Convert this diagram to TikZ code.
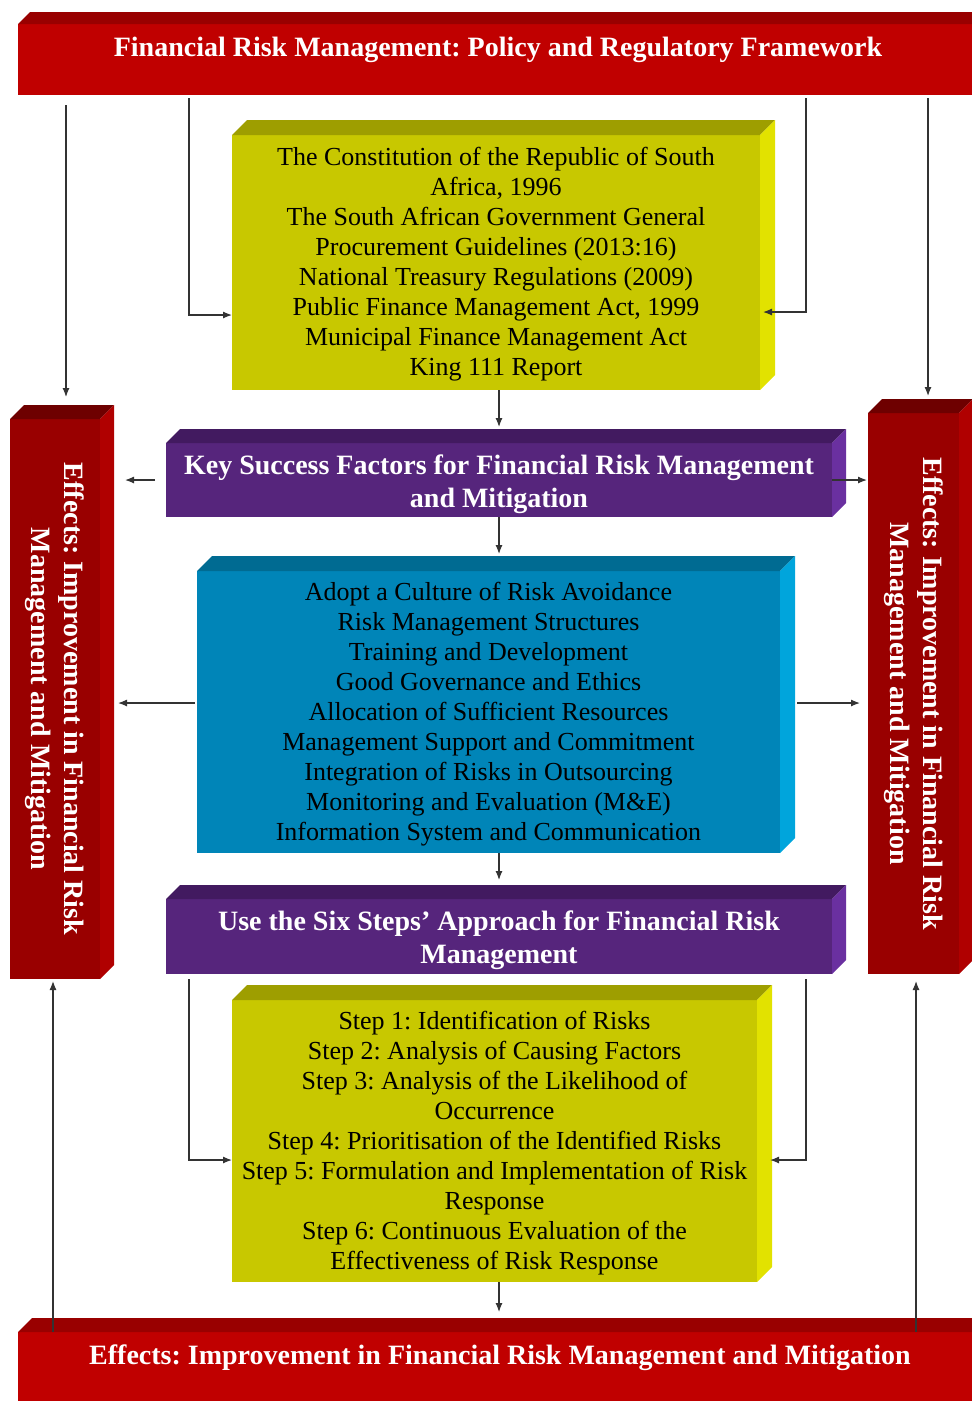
\documentclass[tikz,border=0pt]{standalone}
\usepackage{fontspec}
\setmainfont{Liberation Serif}
\usepackage{graphicx}
\usetikzlibrary{arrows.meta,calc}
\frenchspacing
\definecolor{bannerF}{HTML}{C00000}
\definecolor{bannerT}{HTML}{990000}
\definecolor{redF}{HTML}{990000}
\definecolor{redT}{HTML}{6E0000}
\definecolor{redS}{HTML}{B00000}
\definecolor{purF}{HTML}{56257C}
\definecolor{purT}{HTML}{421A60}
\definecolor{purS}{HTML}{6A30A0}
\definecolor{bluF}{HTML}{0085B8}
\definecolor{bluT}{HTML}{006B92}
\definecolor{bluS}{HTML}{00A5DC}
\definecolor{yelF}{HTML}{C8C800}
\definecolor{yelT}{HTML}{9E9E00}
\definecolor{yelS}{HTML}{E2E200}
\newcommand\cubefaces[4]{%
  \fill[#3] (#1.north west) -- ++(#2,-#2) -- ([shift={(#2,-#2)}]#1.north east) -- (#1.north east) -- cycle;
  \fill[#4] (#1.north east) -- ++(#2,-#2) -- ([shift={(#2,-#2)}]#1.south east) -- (#1.south east) -- cycle;}
\newcommand\hstrut{\rule{0pt}{28pt}}
\newcommand\bstrut{\rule{0pt}{22pt}}
\tikzset{
  face/.style={inner sep=0pt, outer sep=0pt, align=center},
  conn/.style={draw=black!80, line width=1.2pt},
  arr/.style={conn, -{Latex[length=9pt,width=7pt]}},
  body/.style={font=\fontsize{26}{30}\selectfont, text=black},
  head/.style={font=\fontsize{28}{33}\selectfont\bfseries, text=white},
}
\begin{document}
\begin{tikzpicture}[x=1pt,y=-1pt]
\useasboundingbox (0,0) rectangle (972,1401);
\clip (0,0) rectangle (972,1401);

% top banner
\node[face, fill=bannerF, minimum width=972, minimum height=71, anchor=north west] (topbar) at (18,24) {};
\fill[bannerT] (topbar.north west) -- ++(12,-12) -- ([shift={(12,-12)}]topbar.north east) -- (topbar.north east) -- cycle;
\node[head, anchor=base] (toptitle) at (498,56) {Financial Risk Management: Policy and Regulatory Framework};

% bottom banner
\node[face, fill=bannerF, minimum width=972, minimum height=80, anchor=north west] (botbar) at (18,1332) {};
\fill[bannerT] (botbar.north west) -- ++(14,-14) -- ([shift={(14,-14)}]botbar.north east) -- (botbar.north east) -- cycle;
\node[head, anchor=base] (bottitle) at (500,1364) {Effects: Improvement in Financial Risk Management and Mitigation};

% legislation box
\node[face, body, fill=yelF, minimum width=528, minimum height=255] (law) at (496,262.5)
  {\bstrut The Constitution of the Republic of South\\ Africa, 1996\\ The South African Government General\\ Procurement Guidelines (2013:16)\\ National Treasury Regulations (2009)\\ Public Finance Management Act, 1999\\ Municipal Finance Management Act\\ King 111 Report};
\cubefaces{law}{15}{yelT}{yelS}

% key success factors header
\node[face, head, fill=purF, minimum width=666, minimum height=74] (ksf) at (499,480)
  {\hstrut Key Success Factors for Financial Risk Management\\ and Mitigation};
\cubefaces{ksf}{14}{purT}{purS}

% factors box
\node[face, body, fill=bluF, minimum width=583, minimum height=282] (factors) at (488.5,712)
  {\bstrut Adopt a Culture of Risk Avoidance\\ Risk Management Structures\\ Training and Development\\ Good Governance and Ethics\\ Allocation of Sufficient Resources\\ Management Support and Commitment\\ Integration of Risks in Outsourcing\\ Monitoring and Evaluation (M\&E)\\ Information System and Communication};
\cubefaces{factors}{15}{bluT}{bluS}

% six steps header
\node[face, head, fill=purF, minimum width=666, minimum height=75] (six) at (499,936.5)
  {\hstrut Use the Six Steps’ Approach for Financial Risk\\ Management};
\cubefaces{six}{14}{purT}{purS}

% steps box
\node[face, body, fill=yelF, minimum width=525, minimum height=282] (steps) at (494.5,1141)
  {\bstrut Step 1: Identification of Risks\\ Step 2: Analysis of Causing Factors\\ Step 3: Analysis of the Likelihood of\\ Occurrence\\ Step 4: Prioritisation of the Identified Risks\\ Step 5: Formulation and Implementation of Risk\\ Response\\ Step 6: Continuous Evaluation of the\\ Effectiveness of Risk Response};
\cubefaces{steps}{15}{yelT}{yelS}

% side boxes
\node[face, head, fill=redF, minimum width=90, minimum height=560] (lred) at (55,699)
  {\rotatebox{-90}{\parbox{520pt}{\centering Effects: Improvement in Financial Risk\\ Management and Mitigation}}};
\cubefaces{lred}{14}{redT}{redS}
\node[face, head, fill=redF, minimum width=91, minimum height=561] (rred) at (913.5,693.5)
  {\rotatebox{-90}{\parbox{520pt}{\centering Effects: Improvement in Financial Risk\\ Management and Mitigation}}};
\cubefaces{rred}{14}{redT}{redS}

% connectors
\draw[arr, shorten <=10pt, shorten >=22pt] (66,0 |- topbar.south) -- (66,0 |- lred.north);
\draw[arr, shorten <=3pt] (189,0 |- topbar.south) |- (law.west |- 0,315);
\draw[arr, shorten <=3pt] (806,0 |- topbar.south) |- ($(law.east |- 0,312)+(3,0)$);
\draw[arr, shorten <=3pt, shorten >=17pt] (928,0 |- topbar.south) -- (928,0 |- rred.north);
\draw[arr, shorten >=16pt] (ksf.north |- law.south) -- (ksf.north);
\draw[arr, shorten <=11pt, shorten >=25pt] (ksf.west) -- (lred.east |- ksf.west);
\draw[arr, shorten >=1pt] (ksf.east) -- (rred.west |- ksf.east);
\draw[arr, shorten >=17pt] (ksf.south) -- (ksf.south |- factors.north);
\draw[arr, shorten <=2pt, shorten >=18pt] (factors.west |- 0,703) -- (lred.east |- 0,703);
\draw[arr, shorten <=17pt, shorten >=8pt] (factors.east |- 0,703) -- (rred.west |- 0,703);
\draw[arr, shorten >=19pt] (six.north |- factors.south) -- (six.north);
\draw[arr, shorten <=5pt] (189,0 |- six.south) |- (steps.west |- 0,1160);
\draw[arr, shorten <=5pt] (806,0 |- six.south) |- ($(steps.east |- 0,1160)+(13,0)$);
\draw[arr, shorten >=2pt] (53,0 |- botbar.north) -- (53,0 |- lred.south);
\draw[arr, shorten >=7pt] (916,0 |- botbar.north) -- (916,0 |- rred.south);
\draw[arr, shorten >=20pt] (six.south |- steps.south) -- (six.south |- botbar.north);
\end{tikzpicture}
\end{document}
